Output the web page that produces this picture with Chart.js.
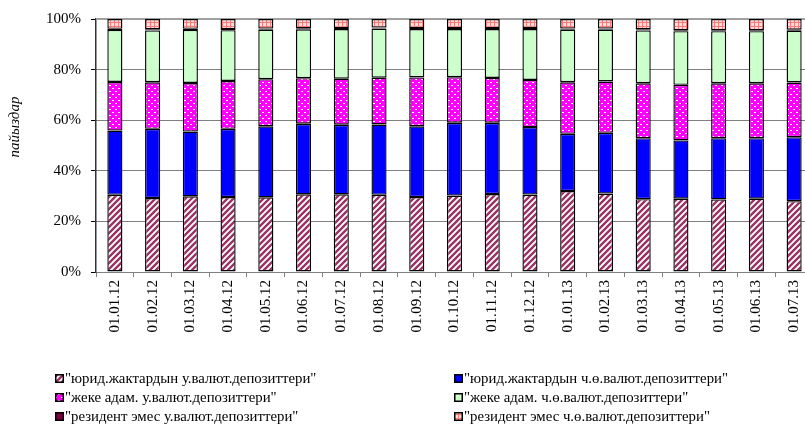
<!DOCTYPE html>
<html>
<head>
<meta charset="utf-8">
<script src="https://cdn.jsdelivr.net/npm/chart.js@4"></script>
<style>
html,body{margin:0;padding:0;background:#fff;overflow:hidden;}
#wrap{width:820px;height:425px;}
</style>
</head>
<body>
<div id="wrap"><canvas id="chart" width="820" height="425"></canvas></div>
<script>
const labels=["01.01.12","01.02.12","01.03.12","01.04.12","01.05.12","01.06.12","01.07.12","01.08.12","01.09.12","01.10.12","01.11.12","01.12.12","01.01.13","01.02.13","01.03.13","01.04.13","01.05.13","01.06.13","01.07.13"];

const seriesNames=['"юрид.жактардын у.валют.депозиттери"','"юрид.жактардын ч.ө.валют.депозиттери"','"жеке адам. у.валют.депозиттери"','"жеке адам. ч.ө.валют.депозиттери"','"резидент эмес у.валют.депозиттери"','"резидент эмес ч.ө.валют.депозиттери"'];

// shares, %
const jurForeign=[30.5,29.2,29.9,29.6,29.5,30.7,30.7,30.5,29.6,30.2,30.8,30.6,32.0,31.0,28.8,29.0,28.7,29.0,28.0];
const jurOther=[25.4,27.4,25.6,27.0,28.1,27.9,27.5,27.8,28.0,28.8,28.2,26.7,22.6,24.0,24.1,23.0,24.2,23.9,25.3];
const indForeign=[19.2,18.4,19.2,18.9,18.6,18.0,18.2,18.5,19.3,18.0,17.7,18.6,20.4,20.3,21.7,22.0,21.7,21.7,21.6];
const indOther=[20.6,20.5,21.0,20.1,19.6,19.3,19.6,19.4,19.1,19.0,19.3,20.1,20.8,20.5,20.9,21.2,20.6,20.6,20.5];
const nonresForeign=[0.4,0.4,0.4,0.4,0.4,0.4,0.4,0.4,0.4,0.4,0.4,0.4,0.4,0.4,0.4,0.4,0.4,0.4,0.4];
const nonresOther=[3.9,4.1,3.9,4.0,3.8,3.7,3.6,3.4,3.6,3.6,3.6,3.6,3.8,3.8,4.1,4.4,4.4,4.4,4.2];

const yTicks=[0,20,40,60,80,100];

function tile(w,h,draw){
const c=document.createElement("canvas");
c.width=w;c.height=h;
const x=c.getContext("2d");
draw(x);
return x.createPattern(c,"repeat");
}

const hatch=tile(6,6,x=>{
x.fillStyle="#fff";x.fillRect(0,0,6,6);
x.strokeStyle="#993366";x.lineWidth=2.4;
x.beginPath();
x.moveTo(-1,7);x.lineTo(7,-1);
x.moveTo(-1,1);x.lineTo(1,-1);
x.moveTo(5,7);x.lineTo(7,5);
x.stroke();
});

const dots=tile(6,6,x=>{
x.fillStyle="#ff00ff";x.fillRect(0,0,6,6);
x.fillStyle="#fff";
x.fillRect(1,1,2,1);
x.fillRect(4,4,2,1);
});

const plaid=tile(4,4,x=>{
x.fillStyle="#ffe0e0";x.fillRect(0,0,4,4);
x.fillStyle="#ff7777";
x.fillRect(0,2,4,1);
x.fillRect(2,0,1,4);
});

const fills=[hatch,"#0000ff",dots,"#ccffcc","#800040",plaid];
const values=[jurForeign,jurOther,indForeign,indOther,nonresForeign,nonresOther];

const legendX=[55,454];
const legendY=[378,397,416];

const extras={
id:"extras",
beforeDatasetsDraw(chart){
const ctx=chart.ctx;
const y=chart.scales.y.getPixelForValue(100);
ctx.save();
ctx.strokeStyle="#a0a0a0";
ctx.lineWidth=2;
ctx.beginPath();
ctx.moveTo(chart.chartArea.left,y);
ctx.lineTo(chart.chartArea.right,y);
ctx.stroke();
ctx.restore();
},
afterDraw(chart){
const ctx=chart.ctx;
ctx.save();
// axis title
ctx.translate(15,127);
ctx.rotate(-Math.PI/2);
ctx.font='italic 15px "Liberation Serif"';
ctx.fillStyle="#000";
ctx.textAlign="center";
ctx.textBaseline="middle";
ctx.fillText("пайыздар",0,0);
ctx.restore();

ctx.save();
ctx.font='14.8px "Liberation Serif"';
ctx.textBaseline="middle";
chart.data.datasets.forEach((ds,i)=>{
const x=legendX[i%2];
const y=legendY[Math.floor(i/2)];
ctx.fillStyle="#000";
ctx.fillRect(x,y-4,9,9);
ctx.fillStyle=ds.backgroundColor;
ctx.fillRect(x+1.5,y-2.5,6,6);
ctx.fillStyle="#000";
ctx.fillText(ds.label,x+10,y+1);
});
ctx.restore();
}
};

new Chart(document.getElementById("chart"),{
type:"bar",
data:{
labels:labels,
datasets:values.map((v,i)=>({
label:seriesNames[i],
data:v,
backgroundColor:fills[i],
borderColor:"#000",
borderWidth:1.4,
borderSkipped:false,
barPercentage:0.4,
categoryPercentage:1
}))
},
options:{
responsive:false,
animation:false,
devicePixelRatio:1,
layout:{padding:{top:18,right:7,left:0,bottom:0}},
plugins:{legend:{display:false},tooltip:{enabled:false}},
scales:{
x:{
stacked:true,
afterFit:s=>{s.height=153;},
grid:{drawOnChartArea:false,drawTicks:true,tickLength:5,tickColor:"#808080",offset:true},
border:{color:"#808080",width:1},
ticks:{color:"#000",font:{family:"Liberation Serif",size:15},minRotation:90,maxRotation:90,padding:3,autoSkip:false}
},
y:{
stacked:true,
min:0,max:100,
afterFit:s=>{s.width=96;},
afterBuildTicks:s=>{s.ticks=yTicks.map(v=>({value:v}));},
grid:{
color:c=>(c.tick.value>0&&c.tick.value<100)?"#000":"rgba(0,0,0,0)",
tickColor:"#000",tickLength:5,lineWidth:1
},
border:{color:"#333",width:1.5,dash:[1,1]},
ticks:{color:"#000",font:{family:"Liberation Serif",size:15},padding:10,callback:v=>v+"%"}
}
}
},
plugins:[extras]
});
</script>
</body>
</html>
